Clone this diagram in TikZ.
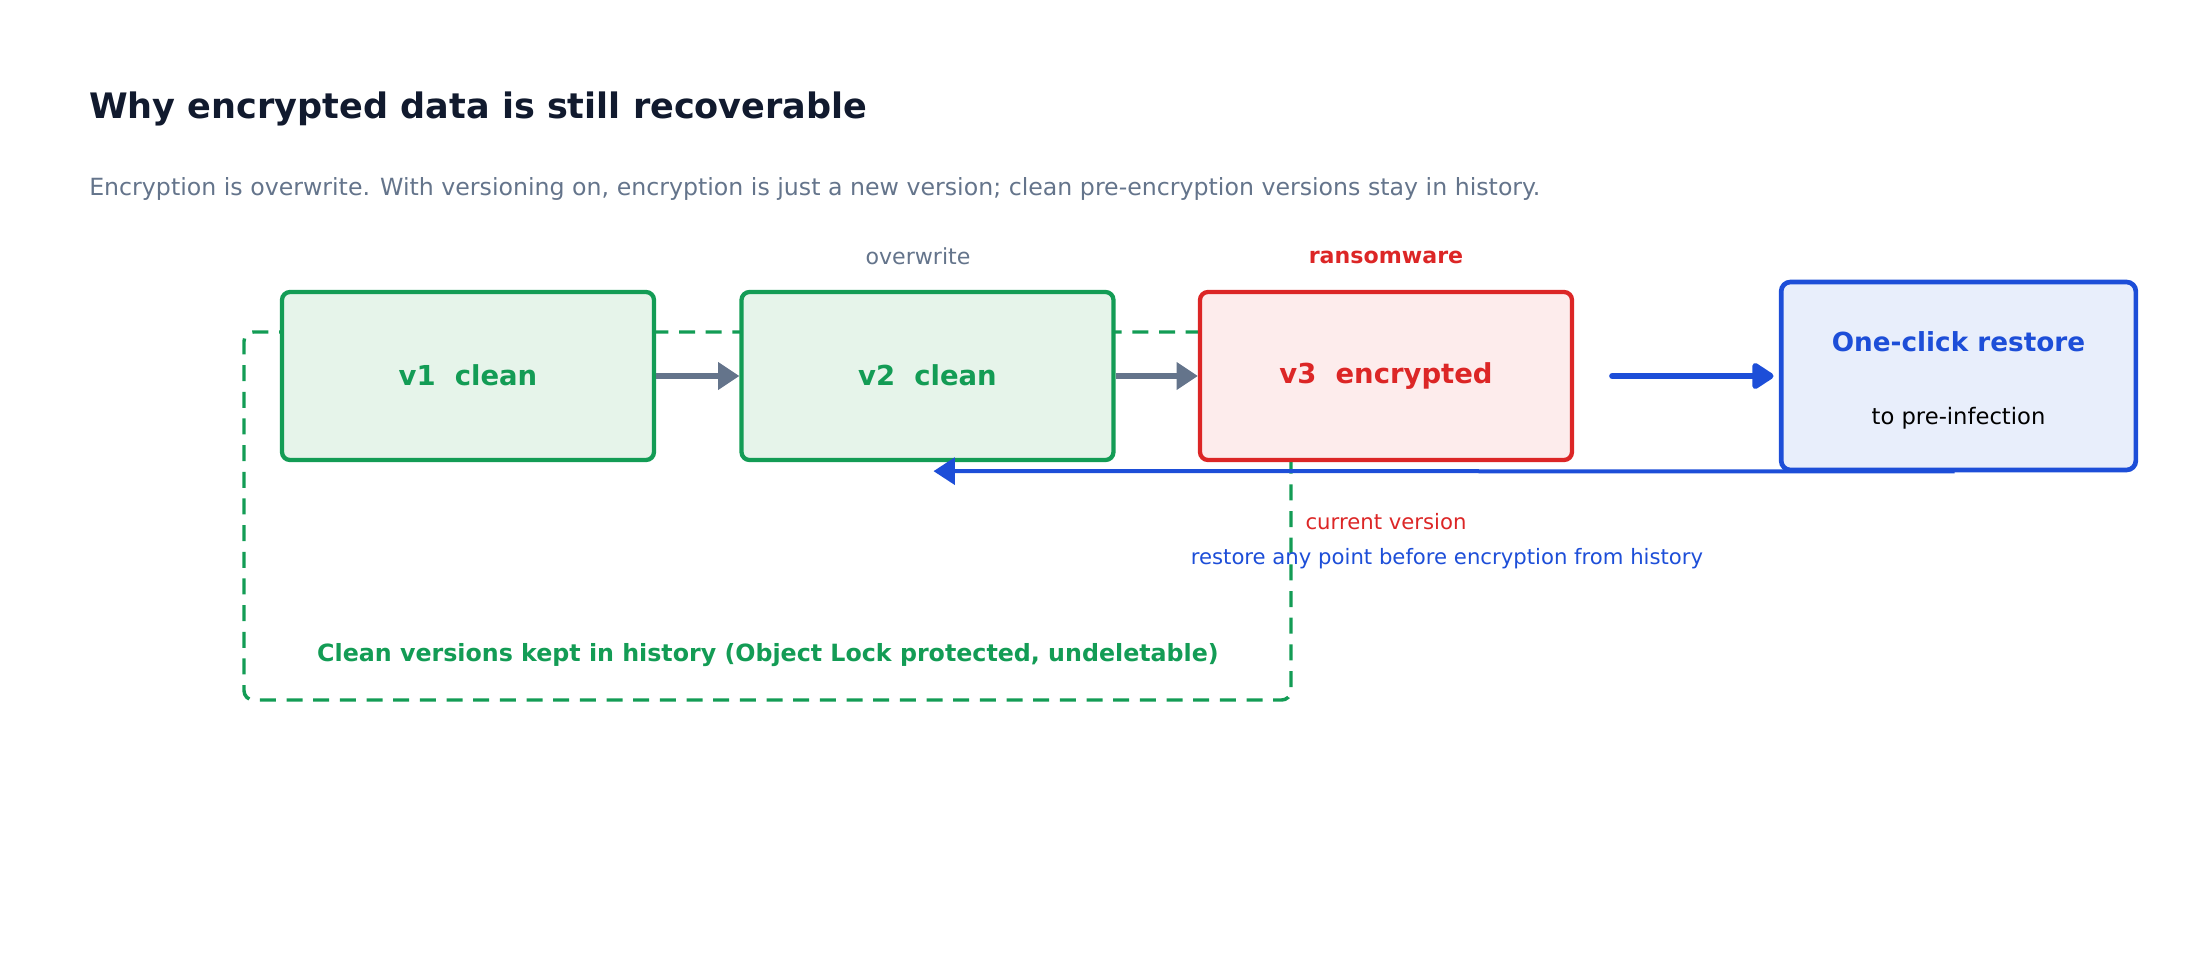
\documentclass[tikz,border=0pt]{standalone}
\usepackage{fontspec}
\setmainfont{DejaVu Sans}
\usetikzlibrary{arrows.meta,calc,positioning}
\definecolor{titlec}{HTML}{111A2E}
\definecolor{subc}{HTML}{64748B}
\definecolor{grn}{HTML}{139C55}
\definecolor{grnfill}{HTML}{E6F4EA}
\definecolor{redc}{HTML}{DC2626}
\definecolor{redfill}{HTML}{FDECEC}
\definecolor{bluc}{HTML}{1D4ED8}
\definecolor{blufill}{HTML}{E8EEFB}
\tikzset{
  verbox/.style={draw, line width=3.2pt, rounded corners=6pt, minimum width=279pt, minimum height=126pt, inner sep=0pt, font=\fontsize{20.6}{24}\selectfont\bfseries},
  cleanbox/.style={verbox, draw=grn, fill=grnfill, text=grn},
  encbox/.style={verbox, draw=redc, fill=redfill, text=redc},
  boxtxt/.style={inner sep=0pt, font=\fontsize{20.6}{24}\selectfont\bfseries},
  graylink/.style={draw=subc, line width=3.8pt, -{Triangle[length=16pt,width=20pt]}},
  lbl/.style={inner sep=0pt, font=\fontsize{16.6}{20}\selectfont},
}
\begin{document}
\begin{tikzpicture}[x=0.75pt,y=-0.75pt]
\useasboundingbox (0,0) rectangle (2188,954);
% history dashed box
\node[draw=grn, dashed, dash pattern=on 12pt off 8pt, line width=2.6pt, rounded corners=7pt, minimum width=785.25pt, minimum height=276pt, inner sep=0pt] (hist) at (767.5,516) {};
\node[lbl, text=grn, font=\fontsize{17.8}{21}\selectfont\bfseries] (histlbl) at (768,655) {Clean versions kept in history (Object Lock protected, undeletable)};
% title
\node[anchor=west, inner sep=0pt, text=titlec, font=\fontsize{26.3}{30}\selectfont\bfseries] (title) at (89,108.5) {Why encrypted data is still recoverable};
\node[anchor=west, inner sep=0pt, text=subc, font=\fontsize{17.75}{22}\selectfont] (sub) at (89,189) {Encryption is overwrite. With versioning on, encryption is just a new version; clean pre-encryption versions stay in history.};
% version boxes
\node[cleanbox] (v1) at (468,376) {};
\node[cleanbox] (v2) at (927.5,376) {};
\node[encbox] (v3) at (1386,376) {};
\node[boxtxt, text=grn] (v1t) at (468,375) {v1\ \ clean};
\node[boxtxt, text=grn] (v2t) at (927.5,375) {v2\ \ clean};
\node[boxtxt, text=redc] (v3t) at (1386,376) {v3\ \ encrypted};
\node[draw=bluc, fill=blufill, line width=3.5pt, rounded corners=7pt, minimum width=266pt, minimum height=141pt, inner sep=0pt] (restore) at (1958.5,376) {};
\node[inner sep=0pt, text=bluc, font=\fontsize{19.7}{24}\selectfont\bfseries] (rt1) at (1958.5,342) {One-click restore};
\node[inner sep=0pt, text=black, font=\fontsize{17}{20}\selectfont] (rt2) at (1958.5,418) {to pre-infection};
% labels
\node[lbl, text=subc] (ow) at (918,256) {overwrite};
\node[lbl, text=redc, font=\fontsize{16.6}{20}\selectfont\bfseries] (rw) at (1386,257.5) {ransomware};
\node[lbl, text=redc, font=\fontsize{15.9}{20}\selectfont] (cur) at (1386,521.5) {current version};
\node[lbl, text=bluc, font=\fontsize{15.9}{20}\selectfont] (rap) at (1447,558.5) {restore any point before encryption from history};
% arrows
\draw[graylink] (v1.east) -- (v2.west);
\draw[graylink] (v2.east) -- (v3.west);
\draw[draw=bluc, line width=4.5pt, line cap=round, -{Triangle[length=18pt,width=22pt,round]}, shorten >=4pt] ($(v3.east)+(38,0)$) -- (restore.west);
\draw[draw=bluc, line width=3pt, -{Triangle[length=16pt,width=20pt]}] ($(restore.south)+(-4,-1)$) -- ($(v2.south)+(6,9)$);
\end{tikzpicture}
\end{document}
